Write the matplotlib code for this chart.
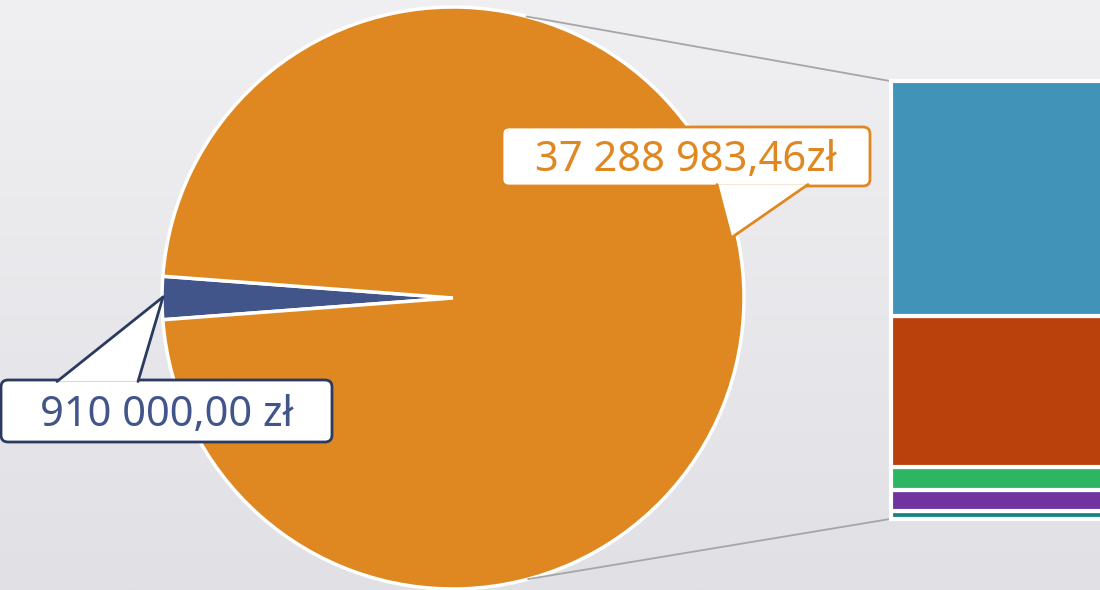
import numpy as np
import matplotlib
matplotlib.use("Agg")
import matplotlib.pyplot as plt
from matplotlib.patches import FancyBboxPatch, Polygon

# ---- data ----
pie_labels = ["Pozostałe", "Inne"]
pie_values = [910000.00, 37288983.46]
pie_colors = ["#42558a", "#df8822"]

bar_values = [688983.46, 1750000.0, 1950000.0, 12900000.0, 20000000.0]   # bottom -> top
bar_colors = ["#148583", "#7033a0", "#2eb562", "#bb410c", "#4194b7"]


def pl_money(v):
    s = f"{v:,.2f}"
    return s.replace(",", " ").replace(".", ",")


W, H = 1100, 590
fig = plt.figure(figsize=(11, 5.9), dpi=100)

# background gradient
bg = fig.add_axes([0, 0, 1, 1], zorder=-10)
grad = np.linspace(0, 1, 256).reshape(-1, 1)
top = np.array([0xf0, 0xf0, 0xf2]) / 255
bot = np.array([0xe1, 0xe0, 0xe5]) / 255
img = top[None, None, :] * (1 - grad[:, :, None]) + bot[None, None, :] * grad[:, :, None]
bg.imshow(img, aspect="auto", extent=[0, 1, 0, 1], origin="upper")
bg.set_axis_off()

ax = fig.add_axes([0, 0, 1, 1])
ax.patch.set_alpha(0)

cx, cy, R = 453, 292, 291
frac_small = pie_values[0] / sum(pie_values)
start = 180 - frac_small * 360 / 2
wedges, _ = ax.pie(pie_values, colors=pie_colors, startangle=start, counterclock=True,
                   center=(cx, cy), radius=R,
                   wedgeprops=dict(edgecolor="white", linewidth=2.5))
ax.set_xlim(0, W)
ax.set_ylim(0, H)
ax.set_aspect("equal")
ax.set_axis_off()

# ---- bar of pie ----
bx0, by0, bh = 891, 71, 438
axb = fig.add_axes([bx0 / W, by0 / H, 20 / W, bh / H])
axb.set_axis_off()
axb.patch.set_alpha(0)
total = sum(bar_values)
bottom = 0
for v, c in zip(bar_values, bar_colors):
    axb.bar(0, v, width=40, bottom=bottom, align="edge", color=c,
            edgecolor="white", linewidth=3, clip_on=False)
    bottom += v
axb.set_xlim(0, 1)
axb.set_ylim(0, total)

# connector lines
for ang, (ex, ey) in [(75.3, (bx0 - 1, by0 + bh)), (-75.0, (bx0 - 1, by0))]:
    px = cx + R * np.cos(np.radians(ang))
    py = cy + R * np.sin(np.radians(ang))
    ax.plot([px, ex], [py, ey], color="#a6a6a6", lw=1.3, zorder=1)


# ---- callouts ----
def callout(x0, y0, x1, y1, base_a, base_b, tip, edge, text, tcolor, base_y):
    box = FancyBboxPatch((x0, y0), x1 - x0, y1 - y0,
                         boxstyle="round,pad=0,rounding_size=7",
                         fc="white", ec=edge, lw=2, zorder=5)
    ax.add_patch(box)
    poly = Polygon([(base_a, base_y), tip, (base_b, base_y)], closed=True,
                   fc="white", ec="none", zorder=6)
    ax.add_patch(poly)
    for bx in (base_a, base_b):
        ax.plot([bx, tip[0]], [base_y, tip[1]], color=edge, lw=2,
                solid_capstyle="round", zorder=7)
    ax.text((x0 + x1) / 2, (y0 + y1) / 2 - 4, text, color=tcolor,
            fontsize=30, family="Noto Sans", ha="center", va="center",
            zorder=8)


# orange label (pixel y -> data y = H - y)
callout(502, H - 186, 870, H - 127, 717, 808, (731, H - 238), "#df8822",
        pl_money(pie_values[1]) + "zł", "#df8822", H - 186 + 1.5)
# blue label
callout(1, H - 442, 332, H - 380, 57, 138, (163, H - 297), "#2b3a60",
        pl_money(pie_values[0]) + " zł", "#42558a", H - 380 - 1.5)

fig.savefig("out.png", dpi=100)
